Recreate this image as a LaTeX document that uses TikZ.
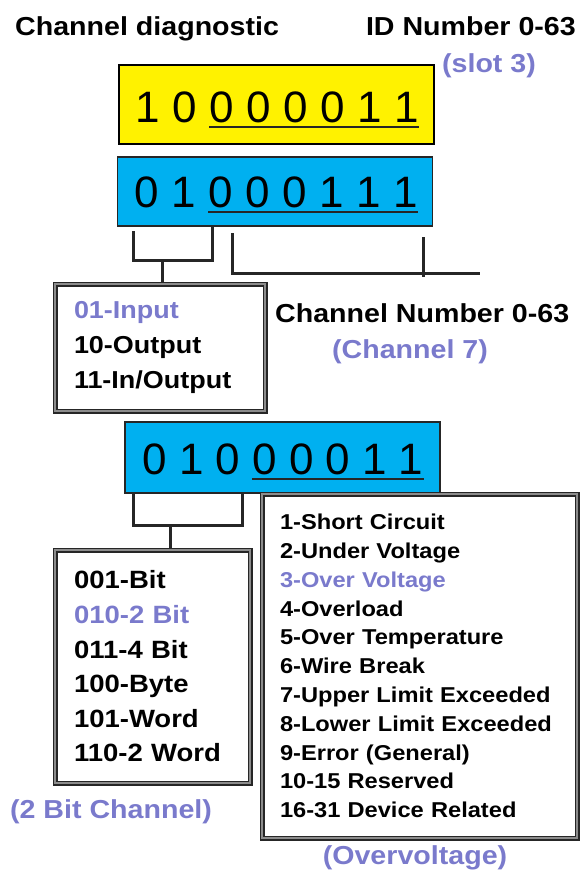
\documentclass[tikz,border=0pt]{standalone}
\usepackage{fontspec}
\setmainfont{Liberation Sans}[FakeStretch=1.1]
\newfontfamily\digitfont{Liberation Sans}

\definecolor{lavender}{RGB}{122,122,204}
\definecolor{cellblue}{RGB}{0,176,240}

\begin{document}
\begin{tikzpicture}[x=1pt,y=-1pt,
	heading/.style={font=\bfseries\fontsize{26}{26}\selectfont,inner sep=0pt},
	note/.style={heading,text=lavender},
	digit/.style={font=\digitfont\fontsize{44}{44}\selectfont,inner sep=0pt,text depth=0pt,anchor=base},
	bits/.style={draw=black!85,line width=1.2pt,minimum width=315pt,inner sep=0pt,fill=cellblue},
	uline/.style={line width=2.5pt,black!85},
	brk/.style={line width=3pt,black!85},
	listbox/.style={draw=black!85,double=black!45,line width=1.5pt,double distance=2pt,align=left,inner ysep=0pt}]
\useasboundingbox (0,0) rectangle (579,879);

\node[heading,anchor=base west] (title) at (15,35) {Channel diagnostic};
\node[heading,anchor=base east] (idnum) at (576,35) {ID Number 0-63};
\node[note,anchor=base] (slot) at (489,72) {(slot 3)};

% first byte
\node[bits,fill=yellow,draw=black,line width=1.6pt,minimum height=79pt] (ybyte) at (276.5,104.5) {};
\foreach \d [count=\i] in {1,0,0,0,0,0,1,1}
	\node[digit] (y\i) at ({148+36.9*(\i-1)},122) {\d};
\draw[uline] ([yshift=-5pt]y3.south west) -- ([yshift=-5pt]y8.south east);

% second byte
\node[bits,minimum height=69pt] (bbyte) at (275,191.5) {};
\foreach \d [count=\i] in {0,1,0,0,0,1,1,1}
	\node[digit] (b\i) at ({147+36.9*(\i-1)},207) {\d};
\draw[uline] ([yshift=-5pt]b3.south west) -- ([yshift=-5pt]b8.south east);

\draw[brk] (133,231) |- (212,260) -- (212,227);
\coordinate (iostem) at (162,260);
\draw[brk] (232,233) |- (480,273);
\draw[brk] (423,237) -- (423,277);

\node[listbox,text width=172pt,inner xsep=19pt,minimum height=127pt,
	font=\bfseries\fontsize{24.5}{35}\selectfont] (io) at (160,347.5)
	{\textcolor{lavender}{01-Input}\\10-Output\\11-In/Output};
\draw[brk] (iostem) -- (iostem |- io.north);

\node[heading,anchor=base west] (chnum) at (275,322) {Channel Number 0-63};
\node[note,anchor=base] (chno) at (410,358) {(Channel 7)};

% third byte
\node[bits,minimum height=71pt] (cbyte) at (282.5,457.5) {};
\foreach \d [count=\i] in {0,1,0,0,0,0,1,1}
	\node[digit] (c\i) at ({155+36.6*(\i-1)},474) {\d};
\draw[uline] ([yshift=-5pt]c4.south west) -- ([yshift=-5pt]c8.south east);

\draw[brk] (133.5,493) |- (242,525) -- (242,493);
\coordinate (tbstem) at (170.6,525);

\node[listbox,text width=157pt,inner xsep=19pt,minimum height=233pt,
	font=\bfseries\fontsize{25}{34.6}\selectfont] (tb) at (152.5,666.5)
	{001-Bit\\\textcolor{lavender}{010-2 Bit}\\011-4 Bit\\100-Byte\\101-Word\\110-2 Word};
\draw[brk] (tbstem) -- (tbstem |- tb.north);

\node[listbox,text width=279pt,inner xsep=18pt,minimum height=344pt,
	font=\bfseries\fontsize{21.5}{28.8}\selectfont] (err) at (419.5,666)
	{1-Short Circuit\\2-Under Voltage\\\textcolor{lavender}{3-Over Voltage}\\4-Overload\\
	5-Over Temperature\\6-Wire Break\\7-Upper Limit Exceeded\\8-Lower Limit Exceeded\\
	9-Error (General)\\10-15 Reserved\\16-31 Device Related};

\node[note] (twobit) at (111,812) {(2 Bit Channel)};
\node[note] (overv) at (415,858) {(Overvoltage)};
\end{tikzpicture}
\end{document}
